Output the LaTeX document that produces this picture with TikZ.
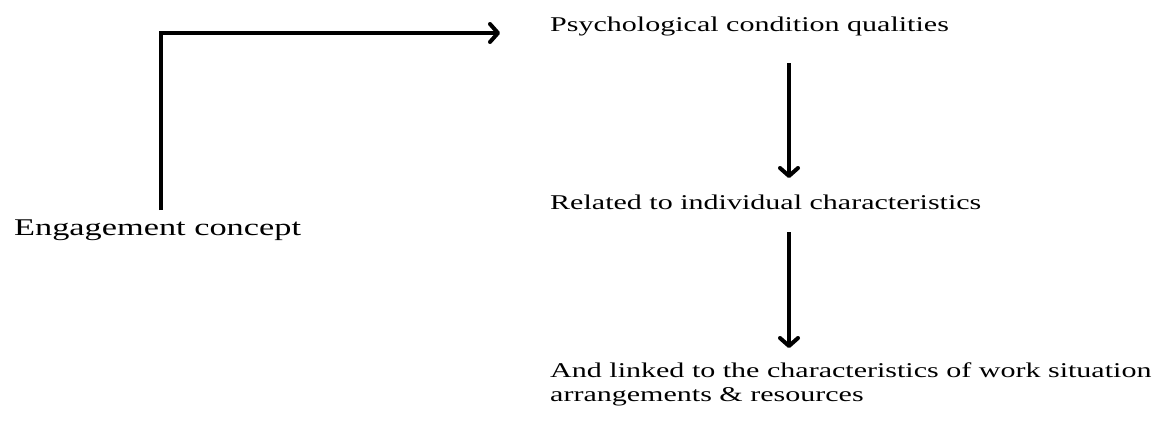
\documentclass[tikz,border=0pt]{standalone}
\usepackage{fontspec}
\setmainfont{Liberation Serif}
\newfontfamily\widefont[FakeStretch=1.43]{Liberation Serif}
\usetikzlibrary{arrows.meta}
\tikzset{
  bigtext/.style={font=\widefont\fontsize{24}{28}\selectfont, inner sep=0pt, anchor=base west},
  smalltext/.style={font=\widefont\fontsize{21}{24}\selectfont, inner sep=0pt, anchor=base west, align=left},
  flow/.style={line width=4pt, line join=miter, line cap=butt,
    -{Straight Barb[length=8pt, width=18pt, line cap=round, line join=round]}}
}
\begin{document}
\begin{tikzpicture}[x=1pt,y=-1pt]
\useasboundingbox (0,0) rectangle (1156,432);
% labels
\node[bigtext] (eng) at (14,235) {Engagement concept};
\node[smalltext] (psy) at (550,31) {Psychological condition qualities};
\node[smalltext] (rel) at (550,209) {Related to individual characteristics};
\node[smalltext] (lnk) at (550,401) {And linked to the characteristics of work situation\\arrangements \& resources};
% connector end points
\coordinate (engtop) at (161,210);
\coordinate (psyin) at (500,33);
\coordinate (a1s) at (789,63);
\coordinate (a1e) at (789,178);
\coordinate (a2s) at (789,232);
\coordinate (a2e) at (789,348);
% connectors
\draw[flow] (engtop) |- (psyin);
\draw[flow] (a1s) -- (a1e);
\draw[flow] (a2s) -- (a2e);
\end{tikzpicture}
\end{document}
